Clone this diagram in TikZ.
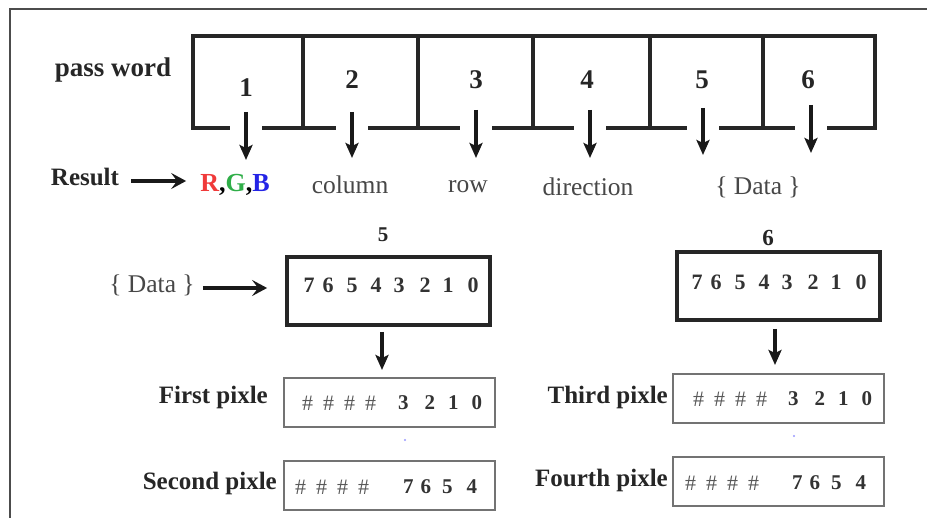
\documentclass[tikz,border=0pt]{standalone}
\usepackage{fontspec}
\setmainfont{Liberation Serif}
\usetikzlibrary{arrows.meta}
\newcommand\hs[1]{\hspace{#1pt}}
\begin{document}
\begin{tikzpicture}[x=1pt,y=-1pt,
  lbl/.style={font=\fontsize{25}{28}\selectfont\bfseries, inner sep=0pt, text=black!85},
  txt/.style={font=\fontsize{25.5}{28}\selectfont, inner sep=0pt, text=black!72},
  num/.style={font=\fontsize{27}{30}\selectfont\bfseries, inner sep=0pt, text=black!85},
  bits/.style={font=\fontsize{22}{26}\selectfont\bfseries, inner sep=0pt, text=black!80},
  hash/.style={font=\fontsize{22}{26}\selectfont, inner sep=0pt, text=black!65},
  pw/.style={draw=black!85, line width=3.8pt},
  bytebox/.style={draw=black!85, line width=3.8pt, minimum width=203pt, minimum height=68pt, inner sep=0pt},
  pixbox/.style={draw=black!55, line width=2pt, minimum width=211pt, minimum height=49pt, inner sep=0pt},
  dn/.style={-{Stealth[length=15pt,width=13pt,inset=3pt]}, line width=3.6pt, black!90},
  rt/.style={-{Stealth[length=15pt,width=16pt,inset=6pt]}, line width=3.6pt, black!90}
]
\useasboundingbox (0,0) rectangle (927,518);
\fill[white] (0,0) rectangle (927,518);

% frame edge
\draw[black!70, line width=2pt] (9.5,518) -- (9.5,9) -- (927,9);

% password cells
\draw[pw] (193,36) rectangle (875,128);
\foreach \x in {303,418,533,650,763} \draw[pw] (\x,36) -- (\x,128);

\node[lbl, font=\fontsize{27}{30}\selectfont\bfseries] (pass) at (113,70) {pass word};

\node[num] (n1) at (246,88) {1};
\node[num] (n2) at (352,80) {2};
\node[num] (n3) at (476,80) {3};
\node[num] (n4) at (587,80) {4};
\node[num] (n5) at (702,80) {5};
\node[num] (n6) at (808,80) {6};

% what each field yields
\node[lbl] (res) at (85,177) {Result};
\node[font=\fontsize{26}{30}\selectfont\bfseries, inner sep=0pt] (rgb) at (235,185)
  {\textcolor[HTML]{F03A3A}{R},\textcolor[HTML]{2FAE48}{G},\textcolor[HTML]{2424E6}{B}};
\node[txt] (col) at (350,185) {column};
\node[txt] (row) at (468,187) {row};
\node[txt] (dir) at (588,187) {direction};
\node[txt] (dat) at (758,187) {\{ Data \}};

\draw[rt, shorten <=12pt, shorten >=14pt] ([yshift=-4pt]res.east) -- ([yshift=-4pt]res.east -| rgb.west);

% arrows leaving the cells through gaps in the bottom edge
\coordinate (e1) at (246,160);
\coordinate (e2) at (352,158);
\coordinate (e3) at (476,158);
\coordinate (e4) at (590,158);
\coordinate (e5) at (703,155);
\coordinate (e6) at (811,153);
\foreach \i/\x/\y in {1/246/112,2/352/112,3/476/110,4/590/110,5/703/108,6/811/105}{
  \fill[white] (\x-16,124) rectangle (\x+16,132);
  \coordinate (s\i) at (\x,\y);
  \draw[dn] (s\i) -- (e\i);
}

% data bytes
\node[font=\fontsize{21}{24}\selectfont\bfseries, inner sep=0pt, text=black!85] (k5) at (383,235) {5};
\node[bytebox] (b5) at (388.5,291) {};
\node[bits, anchor=west] (b5bits) at (303.5,285)
  {7\hs{8}6\hs{13}5\hs{13}4\hs{12}3\hs{15}2\hs{12}1\hs{14}0};
\node[txt] (dat2) at (152,285) {\{ Data \}};
\draw[rt, shorten <=8pt, shorten >=18pt] ([yshift=-3pt]dat2.east) -- ([yshift=-3pt]dat2.east -| b5.west);

\node[font=\fontsize{23}{26}\selectfont\bfseries, inner sep=0pt, text=black!85] (k6) at (768,238) {6};
\node[bytebox] (b6) at (778.5,286) {};
\node[bits, anchor=west] (b6bits) at (691.5,282)
  {7\hs{8}6\hs{13}5\hs{13}4\hs{12}3\hs{15}2\hs{12}1\hs{14}0};

% pixels
\node[pixbox] (p1) at (389,402.5) {};
\node[pixbox] (p2) at (389,485.5) {};
\node[pixbox] (p3) at (778.5,398.5) {};
\node[pixbox] (p4) at (778.5,482) {};

\node[lbl, anchor=east] (l1) at (268,397) {First pixle};
\node[lbl, anchor=east] (l2) at (277,483) {Second pixle};
\node[lbl, anchor=east] (l3) at (668,397) {Third pixle};
\node[lbl, anchor=east] (l4) at (668,480) {Fourth pixle};

\node[hash, anchor=west] (h1) at (302,403) {\#\hs{10}\#\hs{10}\#\hs{10}\#};
\node[bits, font=\fontsize{21}{24}\selectfont\bfseries, anchor=west] (d1) at (398,403) {3\hs{16}2\hs{13}1\hs{13}0};
\node[hash, anchor=west] (h2) at (295,487) {\#\hs{10}\#\hs{10}\#\hs{10}\#};
\node[bits, font=\fontsize{21}{24}\selectfont\bfseries, anchor=west] (d2) at (403,487) {7\hs{7}6\hs{11}5\hs{14}4};
\node[hash, anchor=west] (h3) at (693,399) {\#\hs{10}\#\hs{10}\#\hs{10}\#};
\node[bits, font=\fontsize{21}{24}\selectfont\bfseries, anchor=west] (d3) at (788,399) {3\hs{16}2\hs{13}1\hs{13}0};
\node[hash, anchor=west] (h4) at (685,483) {\#\hs{10}\#\hs{10}\#\hs{10}\#};
\node[bits, font=\fontsize{21}{24}\selectfont\bfseries, anchor=west] (d4) at (792,483) {7\hs{7}6\hs{11}5\hs{14}4};

\coordinate (t5) at (382,370);
\coordinate (t6) at (775,365);
\draw[dn] (b5.south -| t5) ++(0,5) -- (t5);
\draw[dn] (b6.south -| t6) ++(0,7) -- (t6);

% small specks
\fill[blue!40] (405,440) circle (1.2);
\fill[blue!40] (794,436) circle (1.2);
\end{tikzpicture}
\end{document}
